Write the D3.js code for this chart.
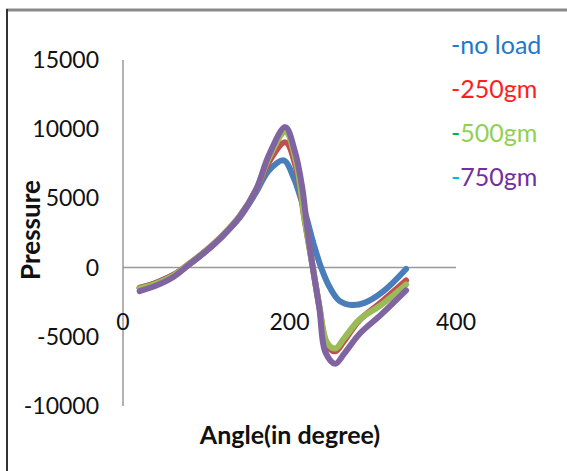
<!DOCTYPE html>
<html><head><meta charset="utf-8">
<script src="https://cdn.jsdelivr.net/npm/d3@7"></script>
<style>html,body{margin:0;padding:0;background:#fff;}svg{display:block;}</style>
</head><body>
<svg id="c" width="567" height="471"></svg>
<script>
const seriesNames = ["-no load", "-250gm", "-500gm", "-750gm"];
const lineColors = ["#4A7EBB", "#C0504D", "#9BBB59", "#8064A2"];
const textColors = ["#1F78C8", "#FF1E1E", "#92D050", "#7030A0"];
const dashColors = ["#1F78C8", "#FF1E1E", "#00B050", "#00B0F0"];
const xTicks = [0, 200, 400];
const yTicks = [-10000, -5000, 0, 5000, 10000, 15000];

const noLoad = [[20,-1500],[40,-1100],[60,-550],[80,250],[100,1200],[120,2300],[140,3600],[160,5450],[175,7000],[193,7750],[205,6500],[212,5300],[220,3700],[229,1700],[238,0],[249,-1500],[260,-2400],[275,-2700],[290,-2550],[313,-1700],[340,-100]];
const g250 = [[20,-1450],[40,-1100],[60,-550],[80,300],[100,1250],[120,2350],[140,3700],[160,5600],[175,7600],[195,9050],[208,7200],[218,3500],[228,0],[236,-2900],[245,-5600],[255,-6050],[265,-5350],[284,-3800],[310,-2500],[340,-930]];
const g500 = [[20,-1500],[40,-1150],[60,-600],[80,300],[100,1250],[120,2350],[140,3700],[160,5650],[175,7900],[195,9800],[208,7600],[218,3600],[228,0],[236,-2800],[245,-5400],[255,-5850],[265,-5150],[284,-3750],[310,-2700],[340,-1220]];
const g750 = [[20,-1700],[40,-1300],[60,-700],[80,250],[100,1200],[120,2300],[140,3650],[160,5650],[175,8100],[195,10150],[206,8500],[215,5900],[221,3000],[228,0],[236,-3000],[243,-6100],[255,-6950],[266,-6200],[284,-4800],[310,-3400],[340,-1650]];
const allSeries = [noLoad, g250, g500, g750];

const svg = d3.select("#c");
const x = d3.scaleLinear().domain([0, 400]).range([123, 456]);
const y = d3.scaleLinear().domain([-10000, 15000]).range([406, 60]);

// frame
svg.append("line").attr("x1",6).attr("x2",567).attr("y1",10).attr("y2",10).attr("stroke","#8a8a8a").attr("stroke-width",3);
svg.append("line").attr("x1",7).attr("x2",7).attr("y1",9).attr("y2",471).attr("stroke","#333").attr("stroke-width",2);

// axes lines
svg.append("line").attr("x1",x(0)).attr("x2",x(0)).attr("y1",y(15000)).attr("y2",y(-10000)).attr("stroke","#999").attr("stroke-width",1.5);
svg.append("line").attr("x1",x(0)).attr("x2",x(400)).attr("y1",y(0)).attr("y2",y(0)).attr("stroke","#999").attr("stroke-width",1.5);

const font = "Lato, 'Open Sans', sans-serif";
// y tick labels
svg.append("g").selectAll("text").data(yTicks).join("text")
  .attr("x", 99).attr("y", d => y(d)).attr("dy","0.35em")
  .attr("text-anchor","end").attr("font-family",font).attr("font-size",23).attr("fill","#111")
  .text(d => d);
// x tick labels
svg.append("g").selectAll("text").data(xTicks).join("text")
  .attr("x", d => x(d)).attr("y", 322).attr("dy","0.35em")
  .attr("text-anchor","middle").attr("font-family",font).attr("font-size",23).attr("fill","#111")
  .text(d => d);

// axis titles
svg.append("text").attr("transform","translate(31,230) rotate(-90)").attr("text-anchor","middle")
  .attr("dy","0.35em").attr("font-family",font).attr("font-weight","bold").attr("font-size",26).attr("fill","#111").text("Pressure");
svg.append("text").attr("x",290).attr("y",435).attr("text-anchor","middle")
  .attr("dy","0.35em").attr("font-family",font).attr("font-weight","bold").attr("font-size",25).attr("fill","#111").text("Angle(in degree)");

// lines
const line = d3.line().x(d => x(d[0])).y(d => y(d[1])).curve(d3.curveCatmullRom.alpha(0.5));
svg.append("g").selectAll("path").data(allSeries).join("path")
  .attr("d", line).attr("fill","none")
  .attr("stroke", (d,i) => lineColors[i]).attr("stroke-width",6)
  .attr("stroke-linejoin","round").attr("stroke-linecap","round");

// legend
const lg = svg.append("g").selectAll("text").data(seriesNames).join("text")
  .attr("x", 451).attr("y", (d,i) => 45 + i*44).attr("dy","0.35em")
  .attr("font-family",font).attr("font-size",25);
lg.append("tspan").attr("fill",(d,i)=>dashColors[i]).text("-");
lg.append("tspan").attr("fill",(d,i)=>textColors[i]).text(d => d.slice(1));
</script>
</body></html>
